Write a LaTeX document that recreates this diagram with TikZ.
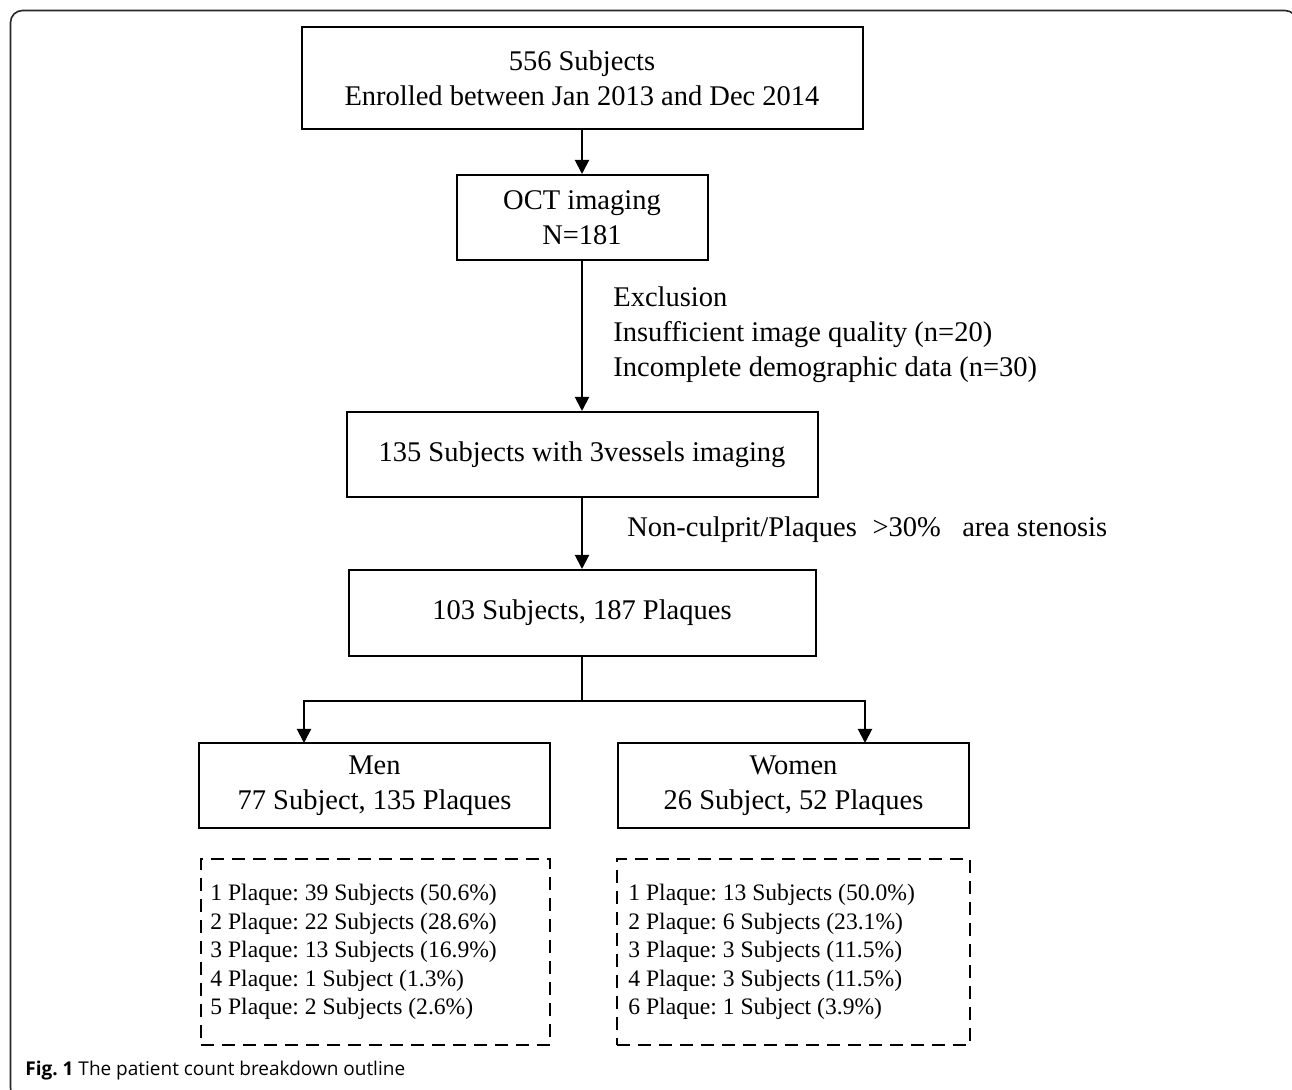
\documentclass[tikz,border=0pt]{standalone}
\usepackage{fontspec}
\setmainfont{Liberation Serif}
\newfontfamily\capfont{Open Sans}
\usetikzlibrary{arrows.meta}
\frenchspacing
\begin{document}
\begin{tikzpicture}[x=0.5pt,y=-0.5pt,
  box/.style={draw, line width=1pt, inner sep=0pt, align=center, font=\fontsize{14.25}{17.5}\selectfont},
  dbox/.style={draw, dash pattern=on 6.5pt off 4pt, line width=1pt, inner sep=0pt},
  arr/.style={-{Triangle[length=7pt,width=7pt]}, line width=1pt},
  lbl/.style={align=left, inner sep=0pt, anchor=west, font=\fontsize{14.25}{17.5}\selectfont},
  listtxt/.style={align=left, inner sep=0pt, anchor=west, font=\fontsize{11.8}{14.25}\selectfont}
]
\path[use as bounding box] (0,0) rectangle (1292,1090);
\clip (0,0) rectangle (1292,1090);
\draw[line width=0.8pt, rounded corners=6pt, black!85] (10.5,10.5) rectangle (1297,1100);

\node[box, minimum width=280.5pt, minimum height=51pt] (n1) at (582,78) {556 Subjects\\Enrolled between Jan 2013 and Dec 2014};
\node[box, minimum width=125.5pt, minimum height=42.5pt] (n2) at (582,217.5) {OCT imaging\\N=181};
\node[box, minimum width=235.5pt, minimum height=42.5pt] (n3) at (582,454.5) {135 Subjects with 3vessels imaging};
\node[box, minimum width=233.5pt, minimum height=43pt] (n4) at (582,613) {103 Subjects, 187 Plaques};
\node[box, minimum width=175.5pt, minimum height=42.5pt] (men) at (374.5,785.5) {Men\\77 Subject, 135 Plaques};
\node[box, minimum width=175.5pt, minimum height=42.5pt] (women) at (793.5,785.5) {Women\\26 Subject, 52 Plaques};

\node[dbox, minimum width=174.5pt, minimum height=93pt] (mlist) at (375.5,952) {};
\node[dbox, minimum width=176.5pt, minimum height=93pt] (wlist) at (793.5,952) {};
\node[listtxt] (mtext) at (210,952) {1 Plaque: 39 Subjects (50.6\%)\\2 Plaque: 22 Subjects (28.6\%)\\3 Plaque: 13 Subjects (16.9\%)\\4 Plaque: 1 Subject (1.3\%)\\5 Plaque: 2 Subjects (2.6\%)};
\node[listtxt] (wtext) at (628,952) {1 Plaque: 13 Subjects (50.0\%)\\2 Plaque: 6 Subjects (23.1\%)\\3 Plaque: 3 Subjects (11.5\%)\\4 Plaque: 3 Subjects (11.5\%)\\6 Plaque: 1 Subject (3.9\%)};

\node[lbl] (excl) at (613,335) {Exclusion\\Insufficient image quality (n=20)\\Incomplete demographic data (n=30)};
\node[lbl] (crit) at (627,530) {Non-culprit/Plaques\hspace{0.55em}>30\%\hspace{0.5em} area stenosis};

\draw[arr] (n1) -- (n2);
\draw[arr] (n2) -- (n3);
\draw[arr] (n3) -- (n4);
\coordinate (split) at (582,701);
\coordinate (mtop) at (304,743);
\coordinate (wtop) at (865,743);
\draw[line width=1pt] (n4.south) -- (split);
\draw[arr] (split) -| (mtop);
\draw[arr] (split) -| (wtop);

\node[anchor=west, inner sep=0pt, font=\capfont\fontsize{9.5}{12}\selectfont] (cap) at (25,1071) {\textbf{Fig. 1} The patient count breakdown outline};
\end{tikzpicture}
\end{document}
